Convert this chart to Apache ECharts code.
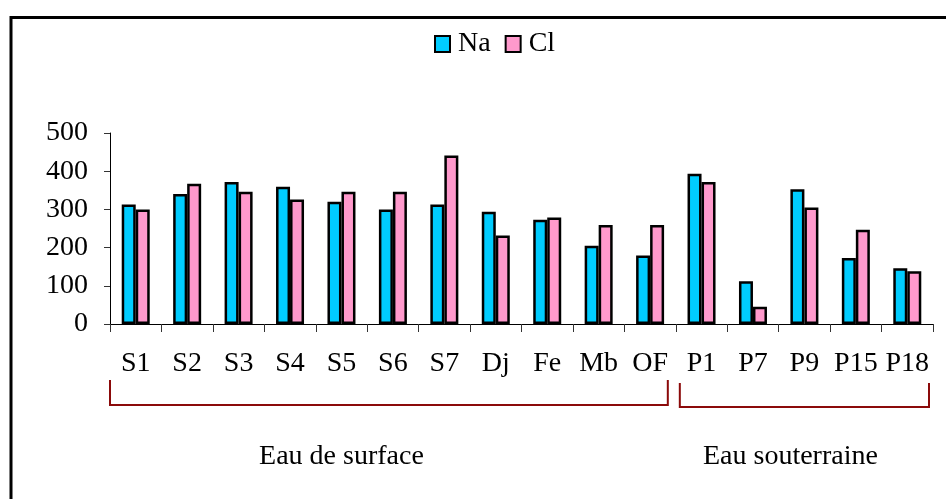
<!DOCTYPE html>
<html>
<head>
<meta charset="utf-8">
<script src="https://cdn.jsdelivr.net/npm/echarts@6/dist/echarts.min.js"></script>
<style>
html,body{margin:0;padding:0;background:#fff;}
#c{width:946px;height:499px;}
</style>
</head>
<body>
<div id="c"></div>
<script>
var categories = ['S1','S2','S3','S4','S5','S6','S7','Dj','Fe','Mb','OF','P1','P7','P9','P15','P18'];
var naValues = [313, 340, 372, 359, 320, 300, 313, 294, 273, 205, 179, 393, 112, 353, 173, 146];
var clValues = [300, 367, 346, 326, 346, 346, 441, 232, 279, 259, 259, 372, 45, 305, 247, 138];
var yTicks = [0, 100, 200, 300, 400, 500];
var groups = [
  {label: 'Eau de surface', from: 'S1', to: 'OF'},
  {label: 'Eau souterraine', from: 'P1', to: 'P18'}
];

var FONT = '"Liberation Serif", "Times New Roman", serif';
var chart = echarts.init(document.getElementById('c'), null, {renderer: 'canvas'});
var option = {
  animation: false,
  backgroundColor: '#fff',
  textStyle: {fontFamily: FONT, color: '#000'},
  legend: {
    left: 429, top: 25,
    icon: 'rect',
    itemWidth: 15, itemHeight: 16, itemGap: 14,
    textStyle: {fontFamily: FONT, fontSize: 28, color: '#000', padding: [0, 0, 0, 3]},
    data: ['Na', 'Cl']
  },
  grid: {left: 110, right: 13, top: 133, bottom: 175, containLabel: false},
  xAxis: {
    type: 'category',
    data: categories,
    boundaryGap: true,
    axisLine: {lineStyle: {color: '#000', width: 1}},
    axisTick: {show: true, length: 8, lineStyle: {color: '#333'}},
    axisLabel: {fontFamily: FONT, fontSize: 28, color: '#000', margin: 26, interval: 0}
  },
  yAxis: {
    type: 'value',
    min: yTicks[0], max: yTicks[yTicks.length - 1], interval: 100,
    axisLine: {show: true, lineStyle: {color: '#000', width: 1}},
    axisTick: {show: true, length: 6, lineStyle: {color: '#333'}},
    splitLine: {show: false},
    axisLabel: {fontFamily: FONT, fontSize: 28, color: '#000', margin: 22}
  },
  series: [
    {
      name: 'Na', type: 'bar', data: naValues,
      barWidth: 14, barGap: '0%',
      itemStyle: {color: '#00CCFF', borderColor: '#000', borderWidth: 2.5}
    },
    {
      name: 'Cl', type: 'bar', data: clValues,
      barWidth: 14,
      itemStyle: {color: '#FF99CC', borderColor: '#000', borderWidth: 2.5}
    }
  ]
};
chart.setOption(option);

function px(cat) { return chart.convertToPixel({xAxisIndex: 0}, cat); }
var band = px(categories[1]) - px(categories[0]);
var x0 = px(groups[0].from) - band / 2;
var x1 = px(groups[0].to) + band / 2 - 8;
var x2 = px(groups[1].from) - band / 2 + 4;
var x3 = px(groups[1].to) + band / 2 - 4;
var bColor = '#8B0A0A';
var graphics = [
  {type: 'rect', shape: {x: 11, y: 17.5, width: 960, height: 520}, style: {fill: 'none', stroke: '#000', lineWidth: 3}, silent: true},
  {type: 'polyline', shape: {points: [[x0, 380], [x0, 405], [x1, 405], [x1, 380]]}, style: {stroke: bColor, lineWidth: 2, fill: 'none'}},
  {type: 'polyline', shape: {points: [[x2, 383], [x2, 407], [x3, 407], [x3, 383]]}, style: {stroke: bColor, lineWidth: 2, fill: 'none'}},
  {type: 'text', style: {text: groups[0].label, x: px('S5'), y: 457, textAlign: 'center', textVerticalAlign: 'middle', font: '28px ' + FONT, fill: '#000'}},
  {type: 'text', style: {text: groups[1].label, x: px('P9') - 14, y: 457, textAlign: 'center', textVerticalAlign: 'middle', font: '28px ' + FONT, fill: '#000'}}
];
chart.setOption({graphic: graphics});
</script>
</body>
</html>
